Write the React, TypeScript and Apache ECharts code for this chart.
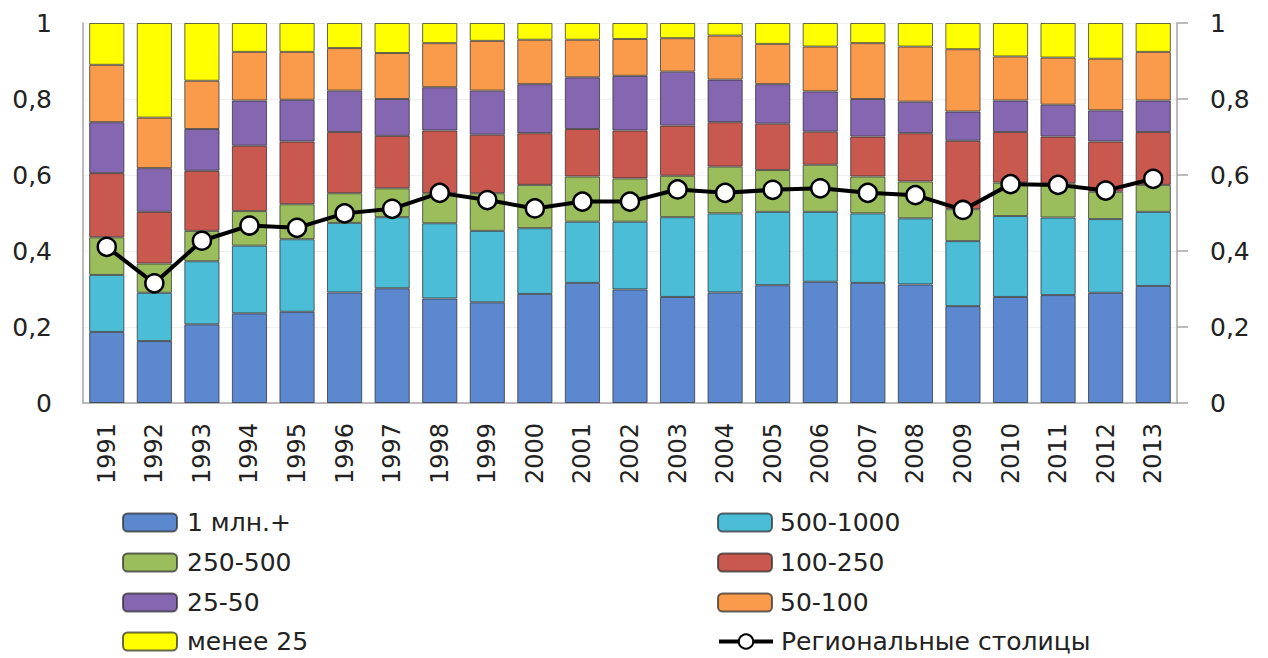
import React, { useEffect, useRef } from "react";
import * as echarts from "echarts";

const years = ["1991","1992","1993","1994","1995","1996","1997","1998","1999","2000","2001","2002","2003","2004","2005","2006","2007","2008","2009","2010","2011","2012","2013"];

const seriesNames = ["1 млн.+", "500-1000", "250-500", "100-250", "25-50", "50-100", "менее 25"];
const lineName = "Региональные столицы";

const s1mln = [0.187,0.163,0.207,0.236,0.240,0.291,0.302,0.275,0.265,0.287,0.316,0.299,0.279,0.291,0.310,0.319,0.316,0.312,0.255,0.279,0.284,0.290,0.308];
const s500 = [0.150,0.127,0.166,0.178,0.191,0.183,0.187,0.198,0.188,0.173,0.161,0.178,0.210,0.208,0.193,0.184,0.183,0.174,0.171,0.213,0.204,0.194,0.195];
const s250 = [0.099,0.077,0.080,0.091,0.092,0.078,0.076,0.079,0.099,0.114,0.119,0.114,0.109,0.123,0.110,0.124,0.097,0.097,0.084,0.088,0.090,0.072,0.071];
const s100 = [0.169,0.136,0.158,0.172,0.165,0.161,0.138,0.165,0.154,0.136,0.125,0.126,0.132,0.117,0.122,0.087,0.105,0.127,0.180,0.133,0.123,0.132,0.139];
const s25 = [0.134,0.115,0.110,0.119,0.110,0.109,0.097,0.114,0.116,0.129,0.136,0.144,0.142,0.112,0.104,0.106,0.099,0.083,0.077,0.083,0.084,0.082,0.083];
const s50 = [0.151,0.133,0.127,0.128,0.126,0.112,0.121,0.116,0.131,0.117,0.099,0.097,0.088,0.116,0.106,0.118,0.147,0.145,0.164,0.116,0.124,0.136,0.128];
const sLess25 = [0.110,0.249,0.152,0.076,0.076,0.066,0.079,0.053,0.047,0.044,0.044,0.042,0.040,0.033,0.055,0.062,0.053,0.062,0.069,0.088,0.091,0.094,0.076];
const capitals = [0.411,0.315,0.427,0.467,0.461,0.499,0.511,0.553,0.534,0.512,0.530,0.530,0.562,0.553,0.561,0.565,0.553,0.547,0.508,0.576,0.574,0.559,0.590];

const colors = ["#5b88cf", "#4bbdd6", "#9bbd5b", "#c9584f", "#8566b0", "#f99b4a", "#ffff00"];

// legend layout: [name, column, row]
const legendOrder: [string, number, number][] = [
  [seriesNames[0], 0, 0], [seriesNames[1], 1, 0],
  [seriesNames[2], 0, 1], [seriesNames[3], 1, 1],
  [seriesNames[4], 0, 2], [seriesNames[5], 1, 2],
  [seriesNames[6], 0, 3], [lineName, 1, 3],
];

const FONT = "DejaVu Sans";

export default function App() {
  const ref = useRef<HTMLDivElement>(null);
  useEffect(() => {
    document.body.style.margin = "0";
    const chart = echarts.init(ref.current!, null, { renderer: "svg" });
    const barData = [s1mln, s500, s250, s100, s25, s50, sLess25];
    const fmt = (v: number) => String(v).replace(".", ",");
    const colLeft = [122, 717];
    const rowTop = [510, 550, 590, 629];
    const legends = legendOrder.map(([name, col, row]) => ({
      orient: "horizontal",
      left: colLeft[col],
      top: rowTop[row],
      padding: 0,
      itemWidth: 54,
      itemHeight: 18,
      data: [name],
      lineStyle: { width: 4, color: "#000" },
      textStyle: { fontFamily: FONT, fontSize: 25, color: "#222", lineHeight: 24, padding: [0, 0, 0, col === 0 ? 5 : 3] },
    }));
    const option: any = {
      animation: false,
      backgroundColor: "#ffffff",
      textStyle: { fontFamily: FONT },
      grid: { left: 83, right: 91, top: 23, bottom: 255, containLabel: false },
      legend: legends,
      xAxis: {
        type: "category",
        data: years,
        axisLine: { show: true, lineStyle: { color: "#a6a6a6", width: 1.5 } },
        axisTick: { show: false },
        axisLabel: {
          rotate: 90,
          margin: 20,
          fontFamily: FONT,
          fontSize: 24,
          color: "#222",
          interval: 0,
        },
      },
      yAxis: [
        {
          type: "value",
          min: 0,
          max: 1,
          interval: 0.2,
          position: "left",
          axisLine: { show: true, lineStyle: { color: "#a6a6a6", width: 1.5 } },
          axisTick: { show: false },
          splitLine: { show: true, lineStyle: { color: "#f0f0f0", width: 1 } },
          axisLabel: { margin: 31, fontFamily: FONT, fontSize: 25, color: "#222", formatter: fmt },
        },
        {
          type: "value",
          min: 0,
          max: 1,
          interval: 0.2,
          position: "right",
          axisLine: { show: true, lineStyle: { color: "#a6a6a6", width: 1.5 } },
          axisTick: { show: true, inside: false, length: 11, lineStyle: { color: "#a6a6a6", width: 1.5 } },
          splitLine: { show: false },
          axisLabel: { margin: 33, fontFamily: FONT, fontSize: 25, color: "#222", formatter: fmt },
        },
      ],
      series: [
        ...barData.map((d, i) => ({
          name: seriesNames[i],
          type: "bar",
          stack: "total",
          barCategoryGap: "26%",
          data: d,
          itemStyle: { color: colors[i], borderColor: "rgba(40,40,40,0.7)", borderWidth: 1 },
          emphasis: { disabled: true },
        })),
        {
          name: lineName,
          type: "line",
          data: capitals,
          z: 10,
          symbol: "circle",
          symbolSize: 18,
          lineStyle: { color: "#000", width: 4 },
          itemStyle: { color: "#ffffff", borderColor: "#000", borderWidth: 2.5 },
          emphasis: { disabled: true },
        },
      ],
    };
    chart.setOption(option);
    return () => chart.dispose();
  }, []);
  return <div ref={ref} style={{ width: 1268, height: 658 }} />;
}
